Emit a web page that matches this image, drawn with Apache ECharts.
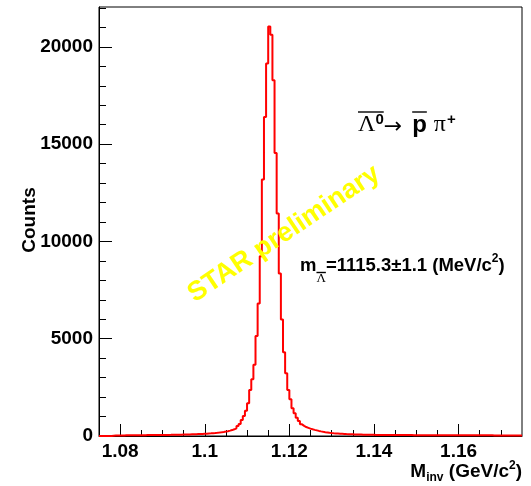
<!DOCTYPE html>
<html><head><meta charset="utf-8">
<script src="https://cdn.jsdelivr.net/npm/echarts@6/dist/echarts.min.js"></script>
<style>html,body{margin:0;padding:0;background:#fff}#c{width:531px;height:486px}</style>
</head><body><div id="c"></div>
<script>
// Histogram binning (GeV/c^2)
const binLow = 1.075;
const binHigh = 1.175;
const binWidth = 0.0005;
// Counts per bin (200 bins)
const counts = [
  0,0,0,0,0,0,
  12,20,25,28,30,32,34,35,36,38,38,40,41,42,43,
  44,45,46,47,48,49,50,51,52,54,55,57,58,60,62,64,66,68,71,74,
  77,80,84,88,92,97,102,108,114,120,
  128,136,145,155,166,178,192,208,226,248,
  275,305,345,
  395,510,616,822,1027,1300,1680,2363,2912,3662,5136,6815,9245,13185,16400,19140,
  21050,20630,18285,14550,11440,8356,5994,4300,3220,2363,1885,1423,1166,940,770,
  600,520,460,420,380,345,315,290,262,238,216,198,182,165,152,140,
  132,125,118,112,106,100,95,90,86,82,
  78,75,72,69,66,64,62,60,58,56,
  55,54,53,52,52,51,50,50,49,48,
  48,47,47,46,46,45,45,44,44,43,
  43,43,42,42,41,41,41,40,40,40,
  39,39,39,38,38,38,37,37,37,36,
  36,36,36,35,35,35,35,34,34,34,
  34,33,33,33,33,32,32,32,32,31,
  31,31,31,30,30,30,30,29,29
];
const yMax = 22050;
const xMajorTicks = [1.08, 1.10, 1.12, 1.14, 1.16];
const xTickLabels = ['1.08', '1.1', '1.12', '1.14', '1.16'];
const xMinorTicks = [1.08,1.085,1.09,1.095,1.10,1.105,1.11,1.115,1.12,1.125,1.13,1.135,1.14,1.145,1.15,1.155,1.16,1.165,1.17];
const yMajorTicks = [0, 5000, 10000, 15000, 20000];
const yTickLabels = ['0', '5000', '10000', '15000', '20000'];
const yMinorTicks = [1000,2000,3000,4000,6000,7000,8000,9000,11000,12000,13000,14000,16000,17000,18000,19000,21000,22000];

const histData = counts.map((c, i) => [binLow + i * binWidth, c]);
histData.push([binHigh, counts[counts.length - 1]]);

const FONT = '"Liberation Sans", Arial, sans-serif';
const mctx = document.createElement('canvas').getContext('2d');
function seq(x0, yMid, pieces, align) {
  const widths = pieces.map(p => { mctx.font = p.font; return mctx.measureText(p.t).width + (p.gap || 0); });
  const total = widths.reduce((a, b) => a + b, 0);
  let x = align === 'right' ? x0 - total : x0;
  const els = [];
  let barX = null, barY = 0;
  pieces.forEach((p, i) => {
    const w = widths[i] - (p.gap || 0);
    if (p.t.trim()) els.push({type: 'text', x: x, y: yMid + (p.dy || 0), z: 10,
      style: {text: p.t, font: p.font, fill: p.fill || '#000', textAlign: 'left', textVerticalAlign: 'middle'}});
    if (p.barStart !== undefined) { barX = x + (p.barPad || 0); barY = yMid + p.barStart; }
    if (p.barEnd) { els.push({type: 'line', z: 10, shape: {x1: barX, y1: barY, x2: x + w, y2: barY}, style: {stroke: '#000', lineWidth: 1.4}}); }
    x += widths[i];
  });
  return els;
}

const graphics = [];
// y-axis title
graphics.push({type: 'text', x: 30, y: 220, rotation: Math.PI / 2, z: 10,
  style: {text: 'Counts', font: 'bold 19px ' + FONT, fill: '#000', textAlign: 'center', textVerticalAlign: 'middle'}});
// x-axis title
graphics.push(...seq(522, 472, [
  {t: 'M', font: 'bold 19px ' + FONT},
  {t: 'inv', font: 'bold 12px ' + FONT, dy: 6},
  {t: ' (GeV/c', font: 'bold 19px ' + FONT},
  {t: '2', font: 'bold 12px ' + FONT, dy: -6},
  {t: ')', font: 'bold 19px ' + FONT}
], 'right'));
// decay formula
graphics.push(...seq(358, 125, [
  {t: 'Λ', font: '24px "Liberation Serif", serif', barStart: -13},
  {t: '0', font: 'bold 15px ' + FONT, dy: -5, barEnd: true},
  {t: '→', font: '22px "DejaVu Sans", sans-serif', dy: 2, gap: 10},
  {t: 'p', font: 'bold 24px ' + FONT, barStart: -13, barEnd: true, gap: 7},
  {t: 'π', font: '24px "Liberation Serif", serif', gap: 1},
  {t: '+', font: 'bold 15px ' + FONT, dy: -5}
]));
// mass result
graphics.push(...seq(300, 266, [
  {t: 'm', font: 'bold 18.5px ' + FONT},
  {t: 'Λ', font: '13px "Liberation Serif", serif', dy: 13, barStart: 6.5, barEnd: true},
  {t: '=1115.3±1.1 (MeV/c', font: 'bold 18.5px ' + FONT},
  {t: '2', font: 'bold 12px ' + FONT, dy: -7},
  {t: ')', font: 'bold 18.5px ' + FONT}
]));
// STAR preliminary
graphics.push({type: 'text', x: 284, y: 234, rotation: 0.59, z: 5,
  style: {text: 'STAR preliminary', font: 'bold 27px ' + FONT, fill: '#ffff00', textAlign: 'center', textVerticalAlign: 'middle'}});

const chart = echarts.init(document.getElementById('c'), null, {renderer: 'canvas'});
const tickLine = {color: '#000', width: 1};
chart.setOption({
  animation: false,
  backgroundColor: '#fff',
  grid: {left: 99, right: 9, top: 7, bottom: 50, show: true, borderColor: '#000', borderWidth: 1, backgroundColor: 'transparent'},
  xAxis: [
    {type: 'value', min: binLow, max: binHigh, position: 'bottom',
     axisLine: {show: true, lineStyle: {color: '#000', width: 1}},
     axisTick: {show: true, inside: true, length: 12, customValues: xMajorTicks, lineStyle: tickLine},
     axisLabel: {show: true, customValues: xMajorTicks, margin: 6, color: '#000', fontFamily: FONT, fontWeight: 'bold', fontSize: 19,
       formatter: v => { const i = xMajorTicks.findIndex(t => Math.abs(t - v) < 1e-9); return i >= 0 ? xTickLabels[i] : ''; }},
     splitLine: {show: false}},
    {type: 'value', min: binLow, max: binHigh, position: 'bottom',
     axisLine: {show: false},
     axisTick: {show: true, inside: true, length: 6, customValues: xMinorTicks, lineStyle: tickLine},
     axisLabel: {show: false}, splitLine: {show: false}}
  ],
  yAxis: [
    {type: 'value', min: 0, max: yMax, position: 'left',
     axisLine: {show: true, lineStyle: {color: '#000', width: 1}},
     axisTick: {show: true, inside: true, length: 13, customValues: yMajorTicks, lineStyle: tickLine},
     axisLabel: {show: true, customValues: yMajorTicks, margin: 6, color: '#000', fontFamily: FONT, fontWeight: 'bold', fontSize: 19,
       formatter: v => { const i = yMajorTicks.findIndex(t => Math.abs(t - v) < 1e-6); return i >= 0 ? yTickLabels[i] : ''; }},
     splitLine: {show: false}},
    {type: 'value', min: 0, max: yMax, position: 'left',
     axisLine: {show: false},
     axisTick: {show: true, inside: true, length: 7, customValues: yMinorTicks, lineStyle: tickLine},
     axisLabel: {show: false}, splitLine: {show: false}}
  ],
  series: [{
    type: 'line', xAxisIndex: 0, yAxisIndex: 0, step: 'end', symbol: 'none', data: histData,
    lineStyle: {color: '#ff0000', width: 2}, z: 3, clip: true
  }],
  graphic: graphics
});
</script></body></html>
